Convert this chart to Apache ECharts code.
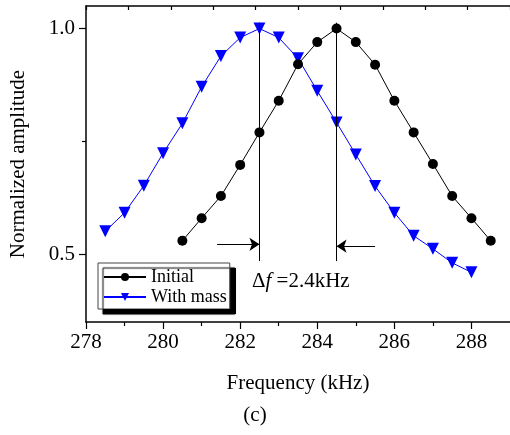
<!DOCTYPE html>
<html>
<head>
<meta charset="utf-8">
<script src="https://cdn.jsdelivr.net/npm/echarts@6/dist/echarts.min.js"></script>
<style>html,body{margin:0;padding:0;background:#fff;}#c{width:510px;height:435px;}</style>
</head>
<body>
<div id="c"></div>
<script>
// ---- data ----
const freqInitial = [280.5, 281, 281.5, 282, 282.5, 283, 283.5, 284, 284.5, 285, 285.5, 286, 286.5, 287, 287.5, 288, 288.5];
const ampInitial  = [0.530, 0.580, 0.629, 0.698, 0.770, 0.840, 0.921, 0.970, 1.000, 0.970, 0.920, 0.840, 0.770, 0.700, 0.629, 0.580, 0.530];
const freqMass = [278.5, 279, 279.5, 280, 280.5, 281, 281.5, 282, 282.5, 283, 283.5, 284, 284.5, 285, 285.5, 286, 286.5, 287, 287.5, 288];
const ampMass  = [0.551, 0.592, 0.652, 0.724, 0.790, 0.871, 0.939, 0.980, 1.000, 0.980, 0.934, 0.862, 0.792, 0.721, 0.651, 0.592, 0.541, 0.512, 0.481, 0.460];
const xTickLabels = [278, 280, 282, 284, 286, 288];
const yTickLabels = [0.5, 1.0];
const yMinorTicks = [0.75];
const peakMass = 282.5, peakInitial = 284.5;
const markerLineRange = [0.485, 1.013];
const arrowStarts = [281.4, 285.5];
const arrowLevels = [0.522, 0.518];
const shiftText = '2.4kHz';

const serif = '"Liberation Serif", "Times New Roman", serif';
const chart = echarts.init(document.getElementById('c'), null, {renderer: 'canvas'});

const option = {
  animation: false,
  backgroundColor: '#fff',
  grid: {left: 86, top: 6, right: -1, bottom: 113, containLabel: false},
  xAxis: [{
    type: 'value', min: 278, max: 289, interval: 2,
    name: 'Frequency (kHz)', nameLocation: 'middle', nameGap: 51,
    nameTextStyle: {fontFamily: serif, fontSize: 21, color: '#000'},
    axisLine: {onZero: false, lineStyle: {color: '#000', width: 1.5}},
    axisTick: {inside: false, length: 7, lineStyle: {color: '#000', width: 1.2}, customValues: xTickLabels},
    minorTick: {show: true, splitNumber: 2, length: 4, lineStyle: {color: '#000', width: 1.2}},
    axisLabel: {customValues: xTickLabels, fontFamily: serif, fontSize: 21, color: '#000', margin: 10},
    splitLine: {show: false}, minorSplitLine: {show: false}
  }, {
    type: 'value', position: 'top', min: 0, max: 10, interval: 1,
    axisLine: {onZero: false, lineStyle: {color: '#000', width: 1.5}},
    axisTick: {inside: true, length: 4, lineStyle: {color: '#000', width: 1.2}},
    axisLabel: {show: false}, splitLine: {show: false}
  }],
  yAxis: [{
    type: 'value', min: 0.35, max: 1.05,
    name: 'Normalized amplitude', nameLocation: 'middle', nameGap: 57,
    nameTextStyle: {fontFamily: serif, fontSize: 21, color: '#000'},
    axisLine: {onZero: false, lineStyle: {color: '#000', width: 1.5}},
    axisTick: {inside: false, length: 7, lineStyle: {color: '#000', width: 1.2}, customValues: yTickLabels},
    axisLabel: {customValues: yTickLabels, fontFamily: serif, fontSize: 21, color: '#000', margin: 11,
      formatter: v => v.toFixed(1)},
    splitLine: {show: false}
  }, {
    type: 'value', min: 0.35, max: 1.05, position: 'left',
    axisLine: {show: false},
    axisTick: {inside: false, length: 4, lineStyle: {color: '#000', width: 1.2}, customValues: yMinorTicks},
    axisLabel: {show: false}, splitLine: {show: false}
  }],
  legend: {
    left: 98, top: 263, orient: 'vertical',
    data: ['Initial', 'With mass'],
    itemWidth: 42, itemHeight: 10, itemGap: 0,
    padding: [4, 3, 2, 5],
    backgroundColor: '#fff', borderColor: '#444', borderWidth: 1,
    shadowColor: '#000', shadowBlur: 1, shadowOffsetX: 5, shadowOffsetY: 5,
    textStyle: {fontFamily: serif, fontSize: 18, color: '#000', lineHeight: 20}
  },
  series: [{
    name: 'With mass', type: 'line', z: 3,
    data: freqMass.map((f, i) => [f, ampMass[i]]),
    symbol: 'triangle', symbolRotate: 180, symbolSize: 12,
    itemStyle: {color: '#0000ff'}, lineStyle: {color: '#0000ff', width: 1}
  }, {
    name: 'Initial', type: 'line', z: 4,
    data: freqInitial.map((f, i) => [f, ampInitial[i]]),
    symbol: 'circle', symbolSize: 10,
    itemStyle: {color: '#000'}, lineStyle: {color: '#000', width: 1}
  }, {
    name: 'annot', type: 'line', z: 6, data: [], silent: true,
    markLine: {
      silent: true, animation: false,
      label: {show: false},
      lineStyle: {color: '#000', width: 1, type: 'solid'},
      symbol: ['none', 'none'],
      data: [
        [{coord: [peakMass, markerLineRange[0]]}, {coord: [peakMass, markerLineRange[1]]}],
        [{coord: [peakInitial, markerLineRange[0]]}, {coord: [peakInitial, markerLineRange[1]]}],
        [{coord: [arrowStarts[0], arrowLevels[0]], symbol: 'none'}, {coord: [peakMass, arrowLevels[0]], symbol: 'arrow', symbolSize: 10}],
        [{coord: [arrowStarts[1], arrowLevels[1]], symbol: 'none'}, {coord: [peakInitial, arrowLevels[1]], symbol: 'arrow', symbolSize: 10}]
      ]
    }
  }],
  graphic: [{
    type: 'rect', x: 231, y: 268, z: 100,
    shape: {width: 5, height: 46},
    style: {fill: '#000'}
  }, {
    type: 'rect', x: 103, y: 309, z: 100,
    shape: {width: 133, height: 5},
    style: {fill: '#000'}
  }, {
    type: 'text', left: 252, top: 271,
    style: {
      text: '{n|Δ}{i|f}{n| =' + shiftText + '}',
      rich: {
        n: {fontFamily: serif, fontSize: 21, fill: '#000'},
        i: {fontFamily: serif, fontSize: 21, fontStyle: 'italic', fill: '#000'}
      }
    }
  }, {
    type: 'text', left: 'center', top: 405,
    style: {text: '(c)', font: '21px ' + serif, fill: '#000'}
  }]
};
chart.setOption(option);
</script>
</body>
</html>
